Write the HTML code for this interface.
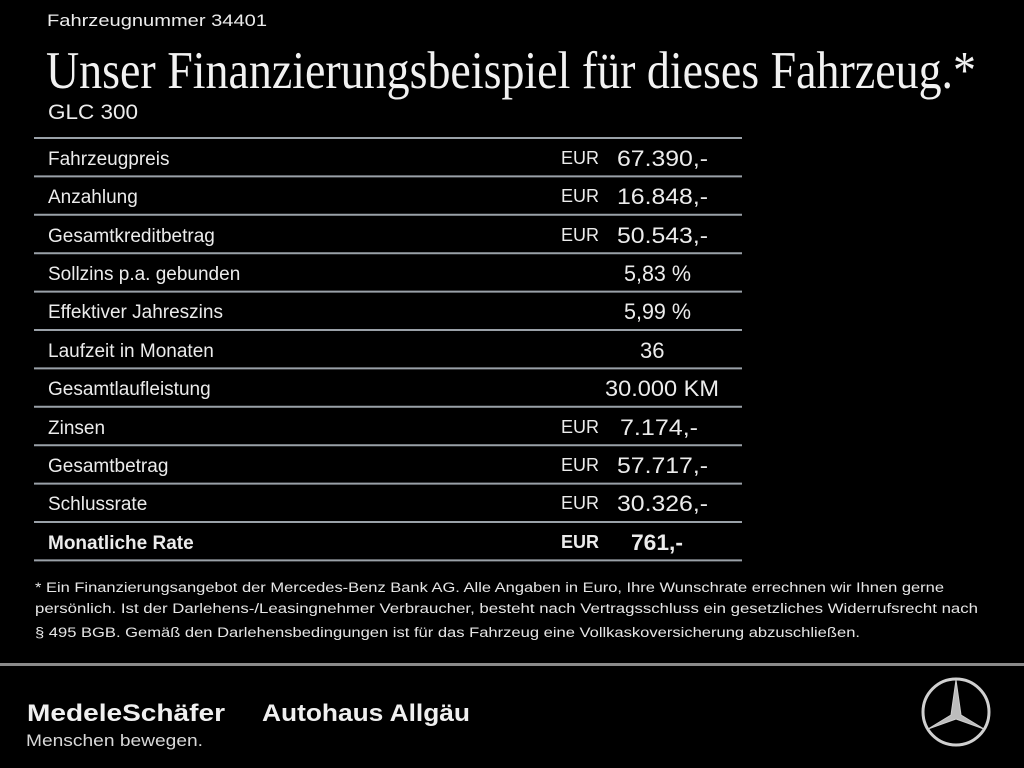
<!DOCTYPE html>
<html><head><meta charset="utf-8"><style>
html,body{margin:0;padding:0;background:#000;}
svg{display:block}
</style></head><body>
<svg width="1024" height="768" viewBox="0 0 1024 768" xmlns="http://www.w3.org/2000/svg">
<rect width="1024" height="768" fill="#000"/>
<g font-family="Liberation Sans, sans-serif" fill="#ececec">
<text x="47" y="26" font-size="17" textLength="220" lengthAdjust="spacingAndGlyphs">Fahrzeugnummer 34401</text>
<text x="46" y="88" font-family="Liberation Serif, serif" font-size="53" fill="#f2f2f2" textLength="930" lengthAdjust="spacingAndGlyphs">Unser Finanzierungsbeispiel für dieses Fahrzeug.*</text>
<text x="48" y="119" font-size="21" textLength="90" lengthAdjust="spacingAndGlyphs">GLC 300</text>
</g>
<g stroke="#9aa1a8" stroke-width="2">
<line x1="34" x2="742" y1="138" y2="138"/>
<line x1="34" x2="742" y1="176.4" y2="176.4"/>
<line x1="34" x2="742" y1="214.8" y2="214.8"/>
<line x1="34" x2="742" y1="253.2" y2="253.2"/>
<line x1="34" x2="742" y1="291.6" y2="291.6"/>
<line x1="34" x2="742" y1="330" y2="330"/>
<line x1="34" x2="742" y1="368.4" y2="368.4"/>
<line x1="34" x2="742" y1="406.8" y2="406.8"/>
<line x1="34" x2="742" y1="445.2" y2="445.2"/>
<line x1="34" x2="742" y1="483.6" y2="483.6"/>
<line x1="34" x2="742" y1="522" y2="522"/>
<line x1="34" x2="742" y1="560.4" y2="560.4"/>
</g>
<g font-family="Liberation Sans, sans-serif" fill="#ececec" font-size="19">
<text x="48" y="165">Fahrzeugpreis</text>
<text x="48" y="203">Anzahlung</text>
<text x="48" y="242">Gesamtkreditbetrag</text>
<text x="48" y="280">Sollzins p.a. gebunden</text>
<text x="48" y="318">Effektiver Jahreszins</text>
<text x="48" y="357">Laufzeit in Monaten</text>
<text x="48" y="395">Gesamtlaufleistung</text>
<text x="48" y="434">Zinsen</text>
<text x="48" y="472">Gesamtbetrag</text>
<text x="48" y="510">Schlussrate</text>
<text x="48" y="549" font-weight="bold">Monatliche Rate</text>
</g>
<g font-family="Liberation Sans, sans-serif" fill="#ececec" font-size="18">
<text x="561" y="164">EUR</text>
<text x="561" y="202">EUR</text>
<text x="561" y="241">EUR</text>
<text x="561" y="433">EUR</text>
<text x="561" y="471">EUR</text>
<text x="561" y="509">EUR</text>
<text x="561" y="548" font-weight="bold">EUR</text>
</g>
<g font-family="Liberation Sans, sans-serif" fill="#ececec" font-size="22">
<text x="617" y="166" textLength="91" lengthAdjust="spacingAndGlyphs">67.390,-</text>
<text x="617" y="204" textLength="91" lengthAdjust="spacingAndGlyphs">16.848,-</text>
<text x="617" y="243" textLength="91" lengthAdjust="spacingAndGlyphs">50.543,-</text>
<text x="624" y="281" textLength="67" lengthAdjust="spacingAndGlyphs">5,83 %</text>
<text x="624" y="319" textLength="67" lengthAdjust="spacingAndGlyphs">5,99 %</text>
<text x="640" y="358">36</text>
<text x="605" y="396" textLength="114" lengthAdjust="spacingAndGlyphs">30.000 KM</text>
<text x="620" y="435" textLength="78" lengthAdjust="spacingAndGlyphs">7.174,-</text>
<text x="617" y="473" textLength="91" lengthAdjust="spacingAndGlyphs">57.717,-</text>
<text x="617" y="511" textLength="91" lengthAdjust="spacingAndGlyphs">30.326,-</text>
<text x="631" y="550" font-weight="bold" textLength="52" lengthAdjust="spacingAndGlyphs">761,-</text>
</g>
<g font-family="Liberation Sans, sans-serif" fill="#e6e6e6" font-size="13.5">
<text x="35" y="592" textLength="909" lengthAdjust="spacingAndGlyphs">* Ein Finanzierungsangebot der Mercedes-Benz Bank AG. Alle Angaben in Euro, Ihre Wunschrate errechnen wir Ihnen gerne</text>
<text x="35" y="613" textLength="943" lengthAdjust="spacingAndGlyphs">persönlich. Ist der Darlehens-/Leasingnehmer Verbraucher, besteht nach Vertragsschluss ein gesetzliches Widerrufsrecht nach</text>
<text x="35" y="637" textLength="825" lengthAdjust="spacingAndGlyphs">§ 495 BGB. Gemäß den Darlehensbedingungen ist für das Fahrzeug eine Vollkaskoversicherung abzuschließen.</text>
</g>
<rect x="0" y="663" width="1024" height="3" fill="#8a8a8a"/>
<g font-family="Liberation Sans, sans-serif" fill="#f0f0f0">
<text x="27" y="721" font-size="24" font-weight="bold" textLength="198" lengthAdjust="spacingAndGlyphs">MedeleSchäfer</text>
<text x="262" y="721" font-size="24" font-weight="bold" textLength="208" lengthAdjust="spacingAndGlyphs">Autohaus Allgäu</text>
<text x="26" y="746" font-size="17" fill="#d8d8d8" textLength="177" lengthAdjust="spacingAndGlyphs">Menschen bewegen.</text>
</g>
<g transform="translate(956,712)" fill="none" stroke="#d0d0d0">
<circle r="33" stroke-width="3"/>
<path d="M0,-32 L5,3 L28,17 L0,7 L-28,17 L-5,3 Z" fill="#bcbcbc" stroke-width="1"/>
</g>
</svg>
</body></html>
